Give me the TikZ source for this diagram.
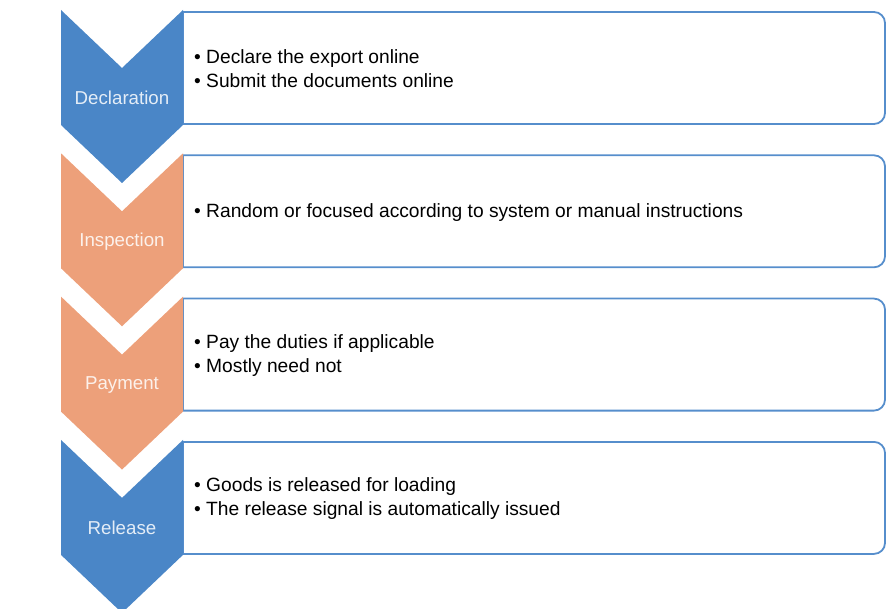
\documentclass[tikz,border=0pt]{standalone}
\usepackage{fontspec}
\setmainfont{Liberation Sans}
\definecolor{stepblue}{RGB}{74,134,199}
\definecolor{steporange}{RGB}{237,160,122}
\definecolor{boxline}{RGB}{86,142,204}
\begin{document}
\begin{tikzpicture}[x=1pt,y=-1pt,
  chev/.style={fill=#1},
  steplabel/.style={text=white!85!#1,font=\fontsize{18.7}{22}\selectfont},
  descbox/.style={draw=boxline,line width=1.8pt,rounded corners=11pt},
  desc/.style={anchor=west,align=left,inner sep=0pt,font=\fontsize{19.2}{24}\selectfont}]
\useasboundingbox (0,0) rectangle (888,609);
\foreach \i/\lab/\col/\txt in {
  0/Declaration/stepblue/{\textbullet\ Declare the export online\\\textbullet\ Submit the documents online},
  1/Inspection/steporange/{\textbullet\ Random or focused according to system or manual instructions},
  2/Payment/steporange/{\textbullet\ Pay the duties if applicable\\\textbullet\ Mostly need not},
  3/Release/stepblue/{\textbullet\ Goods is released for loading\\\textbullet\ The release signal is automatically issued}}{
  \pgfmathsetmacro\t{10+143.3*\i}
  \draw[descbox] (183,\t+2) -- (885,\t+2) -- (885,\t+114) -- (183,\t+114);
  \draw[boxline,line width=1.8pt] (183,\t+2) -- (183,\t+114);
  \fill[chev=\col] (61,\t) -- (122,\t+58) -- (183,\t) -- (183,\t+115) -- (122,\t+173) -- (61,\t+115) -- cycle;
  \node[steplabel=\col] (lab\i) at (122,\t+88) {\lab};
  \node[desc] (txt\i) at (194,\t+59) {\txt};
}
\end{tikzpicture}
\end{document}
